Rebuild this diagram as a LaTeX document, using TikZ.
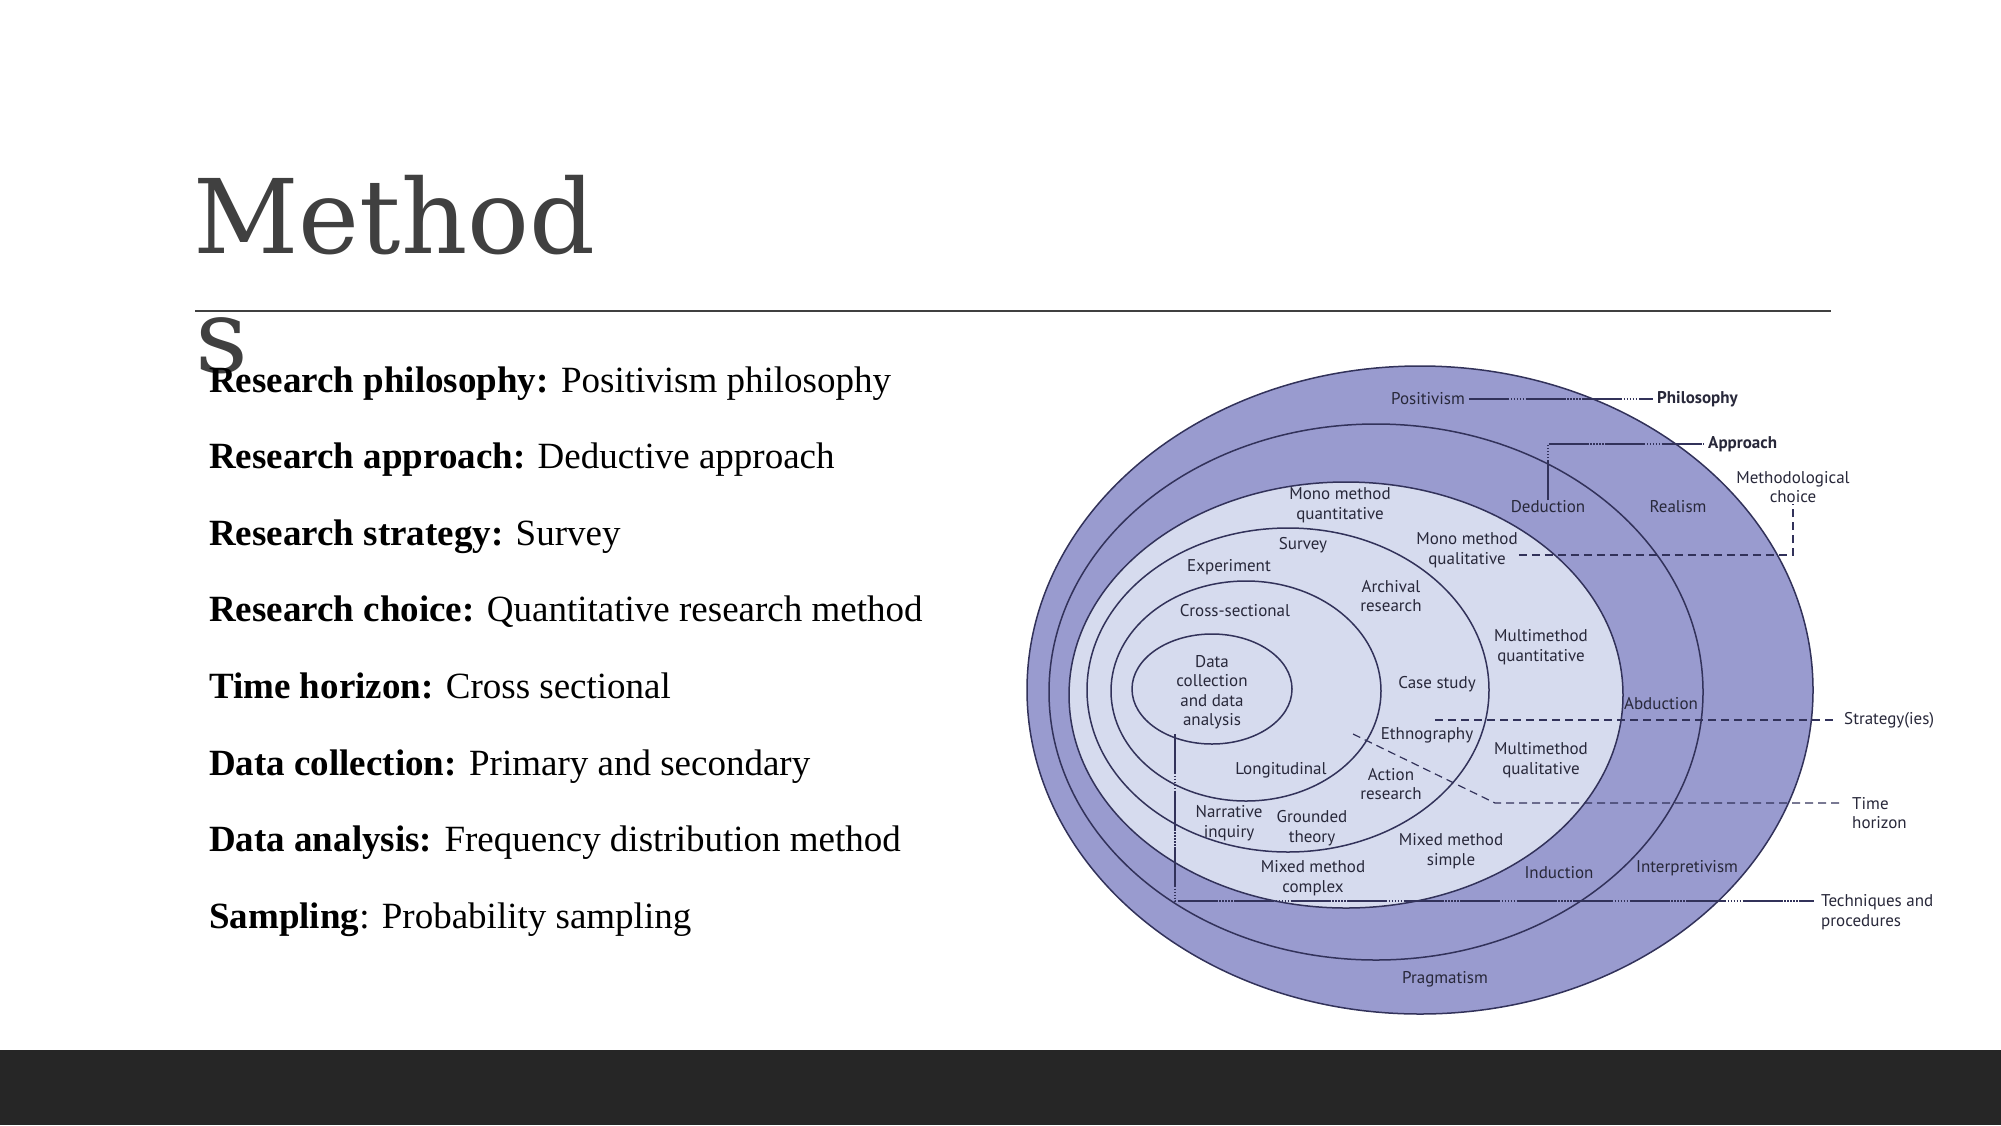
\documentclass[tikz,border=0pt]{standalone}
\usepackage{fontspec}
\setmainfont{Liberation Serif}
\newfontfamily\titlefont{DejaVu Serif}
\newfontfamily\labfont{PT Sans}
\definecolor{ringc}{RGB}{153,155,207}
\definecolor{innerc}{RGB}{214,219,238}
\definecolor{edgec}{RGB}{50,50,90}
\definecolor{labc}{RGB}{40,40,58}
\definecolor{titlec}{RGB}{64,64,64}
\definecolor{barc}{RGB}{38,38,38}
\begin{document}
\begin{tikzpicture}[x=1pt,y=-1pt,
 lab/.style={font=\labfont\fontsize{17}{19.5}\selectfont, text=labc, align=center, inner sep=1pt},
 blab/.style={font=\labfont\bfseries\fontsize{17}{19.5}\selectfont, text=labc, align=center, inner sep=1pt},
 body/.style={anchor=base west, inner sep=0pt, font=\fontsize{37}{44}\selectfont},
 ringline/.style={draw=edgec, line width=1.5pt},
 lead/.style={draw=edgec, line width=1.2pt, dash pattern=on 40pt off 1.5pt on 1.5pt off 1.5pt on 1.5pt off 1.5pt on 1.5pt off 1.5pt on 1.5pt off 1.5pt on 1.5pt off 1.5pt},
 dashlead/.style={draw=edgec, line width=1.2pt, dash pattern=on 8pt off 5pt}]
\useasboundingbox (0,0) rectangle (2001,1125);
\fill[white] (0,0) rectangle (2001,1125);
\fill[barc] (0,1050) rectangle (2001,1125);
% title
\node[anchor=base west, inner sep=0pt, text=titlec, font=\titlefont\fontsize{103}{120}\selectfont] (t1) at (193,253) {Method};
\node[anchor=base west, inner sep=0pt, text=titlec, font=\titlefont\fontsize{103}{120}\selectfont] (t2) at (195,372) {s};
\draw[titlec, line width=2pt] (195,311) -- (1831,311);
% body text
\node[body] (l1) at (209,392) {\textbf{Research philosophy:} Positivism philosophy};
\node[body] (l2) at (209,468.6) {\textbf{Research approach:} Deductive approach};
\node[body] (l3) at (209,545.2) {\textbf{Research strategy:} Survey};
\node[body] (l4) at (209,621.8) {\textbf{Research choice:} Quantitative research method};
\node[body] (l5) at (209,698.4) {\textbf{Time horizon:} Cross sectional};
\node[body] (l6) at (209,775) {\textbf{Data collection:} Primary and secondary};
\node[body] (l7) at (209,851.6) {\textbf{Data analysis:} Frequency distribution method};
\node[body] (l8) at (209,928.2) {\textbf{Sampling}: Probability sampling};
% onion
\path[ringline, fill=ringc] (1420,690) ellipse [x radius=393pt, y radius=324pt];
\path[ringline] (1376,692) ellipse [x radius=327pt, y radius=268pt];
\path[ringline, fill=innerc] (1346,695) ellipse [x radius=277pt, y radius=213pt];
\path[ringline] (1288,690) ellipse [x radius=201pt, y radius=162pt];
\path[ringline] (1246,691) ellipse [x radius=135pt, y radius=110pt];
\path[ringline] (1212,689) ellipse [x radius=80pt, y radius=55pt];
% labels
\node[lab] (pos) at (1428,399) {Positivism};
\node[blab, anchor=west] (phil) at (1656,399) {Philosophy};
\node[blab, anchor=west] (appr) at (1707,444) {Approach};
\node[lab] (ded) at (1548,507) {Deduction};
\node[lab] (real) at (1678,507) {Realism};
\node[lab] (meth) at (1793,487) {Methodological\\choice};
\node[lab] (mmquant) at (1340,505) {Mono method\\quantitative};
\node[lab] (surv) at (1303,545) {Survey};
\node[lab] (mmqual) at (1467,550) {Mono method\\qualitative};
\node[lab] (exper) at (1229,567) {Experiment};
\node[lab] (arch) at (1391,596) {Archival\\research};
\node[lab] (cross) at (1235,611) {Cross-sectional};
\node[lab] (multquant) at (1541,647) {Multimethod\\quantitative};
\node[lab] (data) at (1212,692) {Data\\collection\\and data\\analysis};
\node[lab] (case) at (1437,684) {Case study};
\node[lab] (abd) at (1661,704) {Abduction};
\node[lab, anchor=west] (strat) at (1843,720) {Strategy(ies)};
\node[lab] (ethno) at (1427,735) {Ethnography};
\node[lab] (multqual) at (1541,760) {Multimethod\\qualitative};
\node[lab] (longi) at (1281,770) {Longitudinal};
\node[lab] (action) at (1391,784) {Action\\research};
\node[lab, anchor=west, align=left] (time) at (1851,813) {Time\\horizon};
\node[lab] (narr) at (1229,823) {Narrative\\inquiry};
\node[lab] (ground) at (1312,828) {Grounded\\theory};
\node[lab] (mmsimple) at (1451,851) {Mixed method\\simple};
\node[lab] (mmcomplex) at (1313,878) {Mixed method\\complex};
\node[lab] (induc) at (1559,873) {Induction};
\node[lab] (interp) at (1687,868) {Interpretivism};
\node[lab, anchor=west, align=left] (tech) at (1820,912) {Techniques and\\procedures};
\node[lab] (prag) at (1445,979) {Pragmatism};
% leaders
\draw[lead, shorten >=3pt, shorten <=3pt] (pos.east) -- (phil.west);
\draw[lead, shorten >=3pt] (ded.north) |- (appr.west);
\draw[dashlead] (mmqual.east |- 0,555) -| (meth.south);
\coordinate (sL) at (1435,720);
\draw[dashlead, shorten >=8pt] (sL) -- (strat.west);
\coordinate (tA) at (1353,734);
\coordinate (tB) at (1495,803);
\draw[dashlead, shorten >=9pt] (tA) -- (tB) -- (tB -| time.west);
\coordinate (tV) at (1175,734);
\coordinate (tC) at (1175,901);
\draw[lead, shorten >=6pt] (tV) -- (tC) -- (tC -| tech.west);
\end{tikzpicture}
\end{document}
